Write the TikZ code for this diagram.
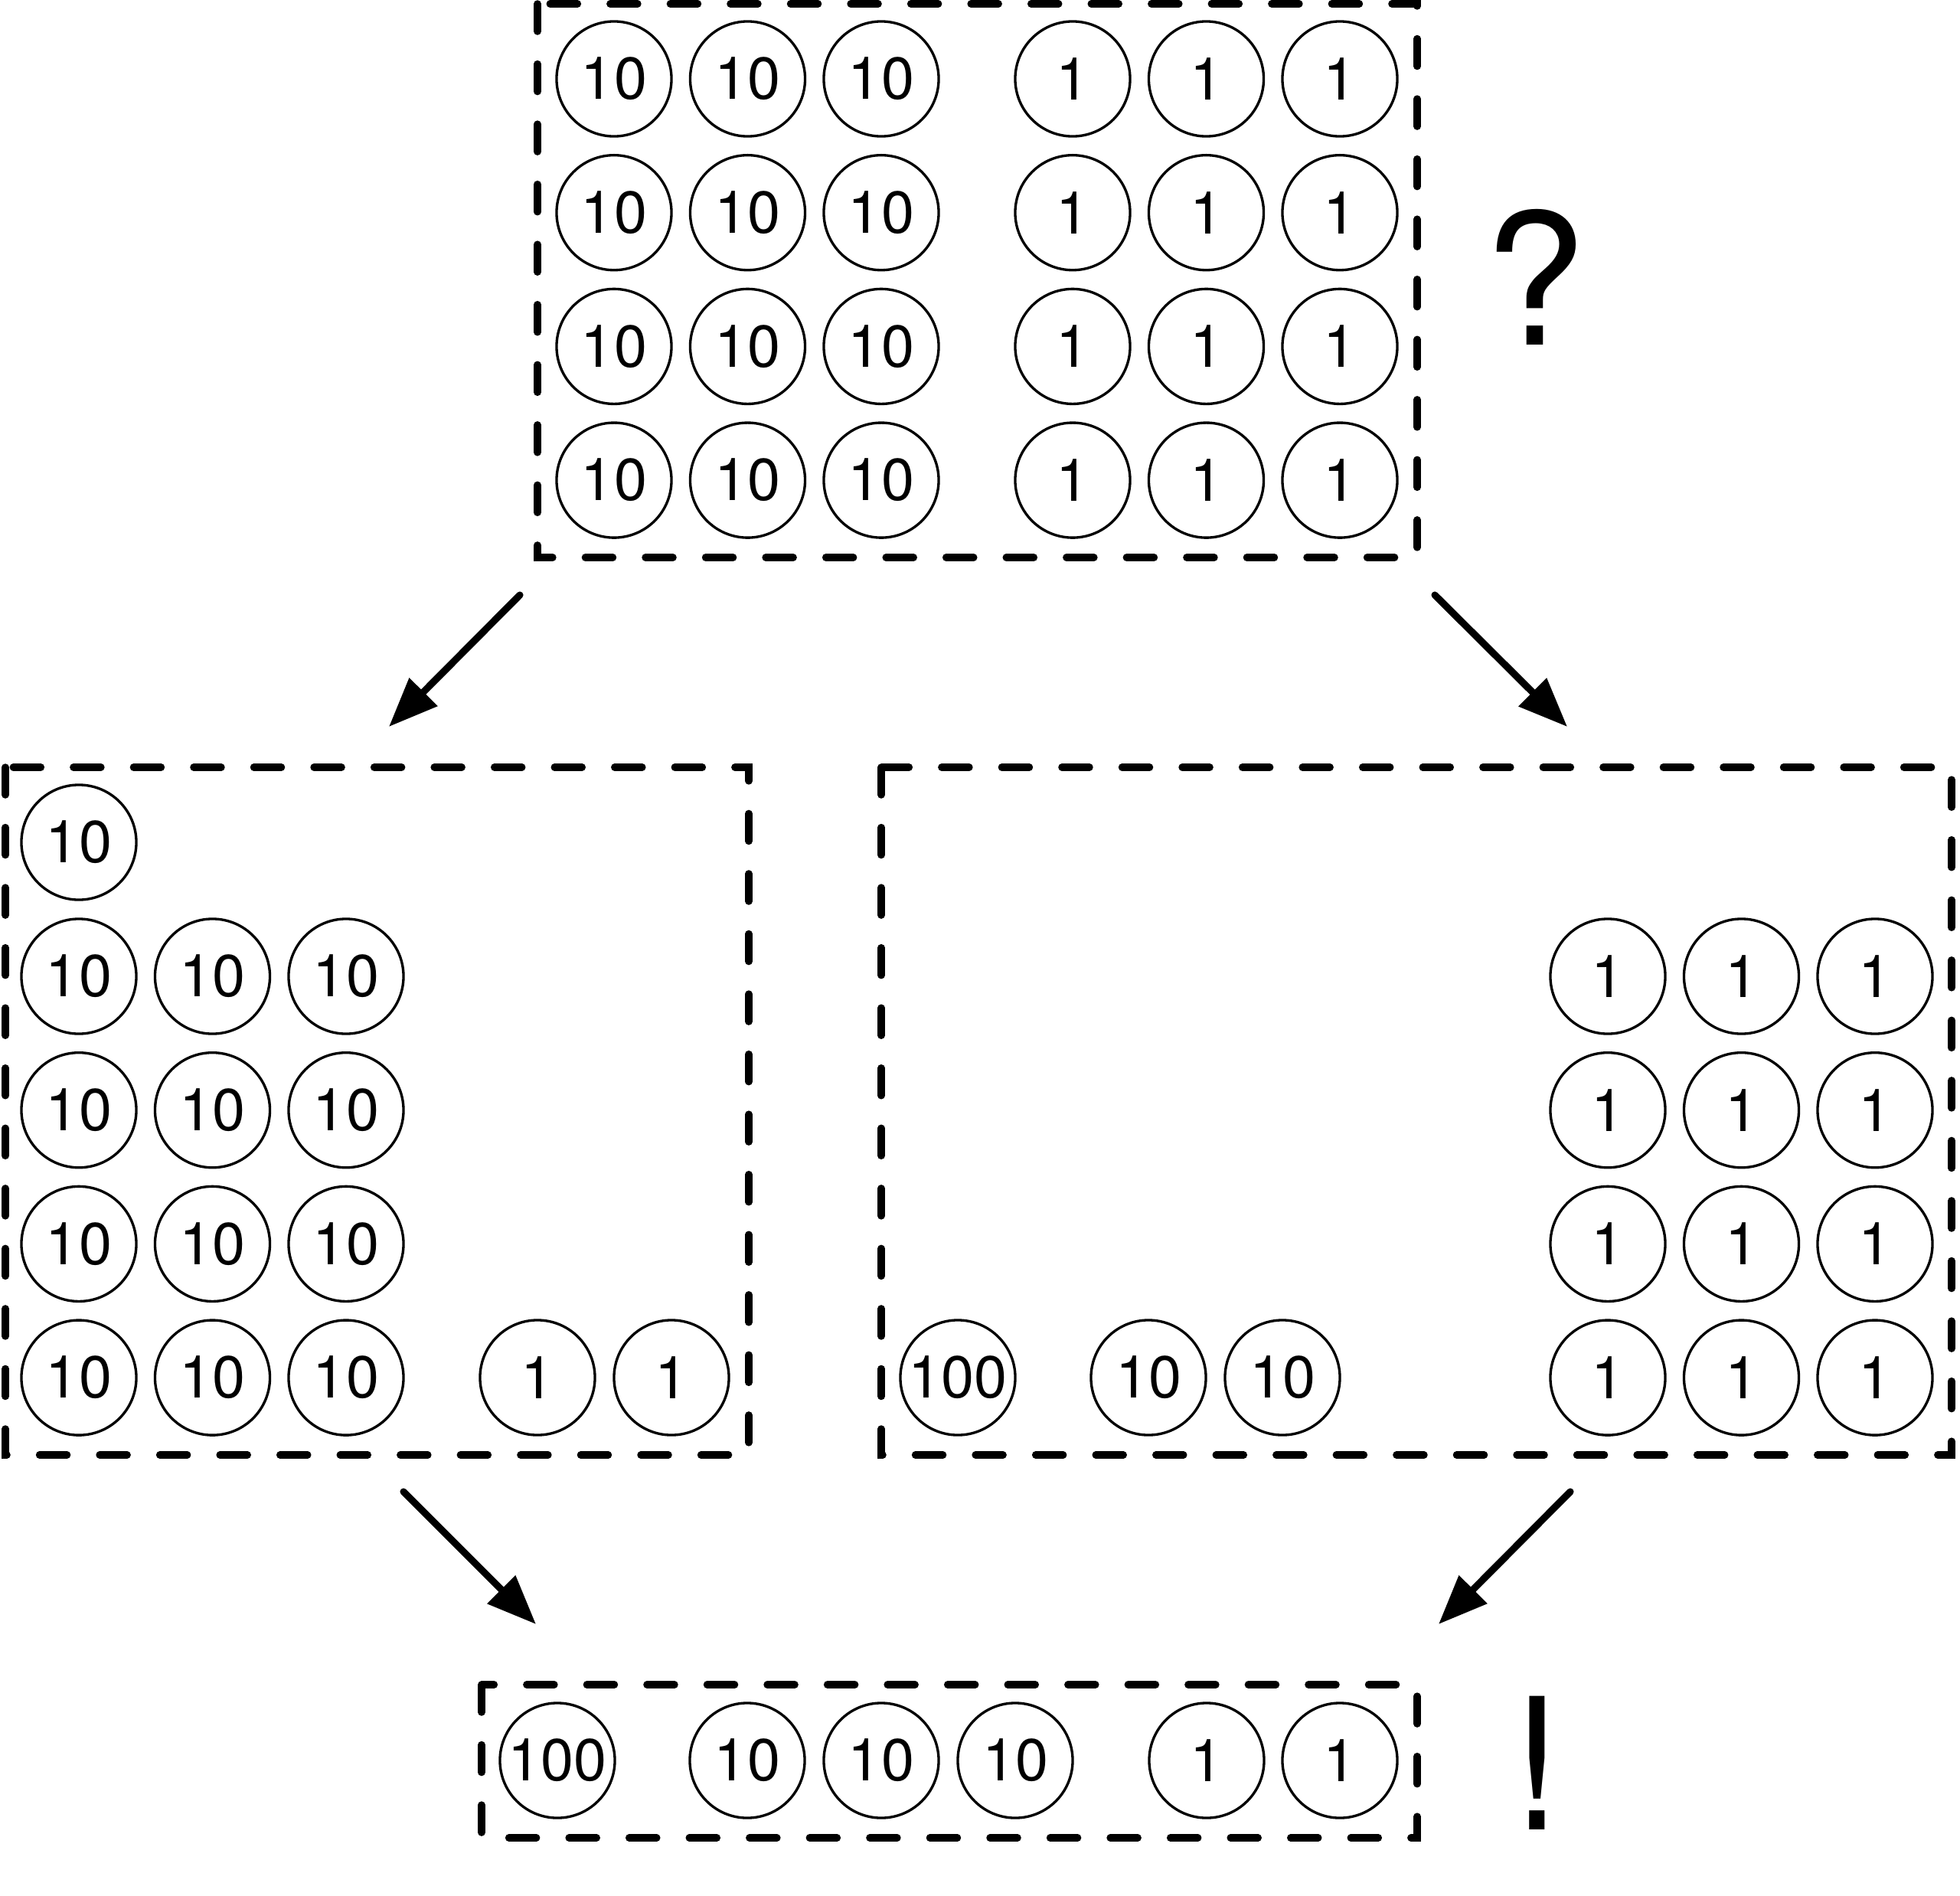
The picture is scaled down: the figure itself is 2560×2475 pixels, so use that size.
\documentclass[tikz,border=0pt]{standalone}
\usepackage{fontspec}
\setmainfont{TeX Gyre Heros}
\usetikzlibrary{arrows.meta}

\begin{document}
\begin{tikzpicture}[x=0.01cm,y=-0.01cm,
  coin/.style={circle,draw,line width=.95pt,minimum size=1.5cm,inner sep=0pt,font=\fontsize{22}{26}\selectfont},
  tray/.style={line width=2.7pt,dash pattern=on .36cm off .425cm,line cap=round},
  push/.style={line width=2.6pt,line cap=round,-{Triangle[length=.64cm,width=.5cm]}},
  mark sign/.style={font=\fontsize{68}{72}\selectfont}]
  \useasboundingbox (0,0) rectangle (2560,2475);
  % trays
  \draw[tray] (702,5) rectangle (1851,728);
  \draw[tray] (7,1002) rectangle (978,1900);
  \draw[tray] (1151,1002) rectangle (2549,1900);
  \draw[tray] (629,2200) rectangle (1851,2400);
  % top: 12 tens, 12 ones
  \foreach \r in {0,...,3} {\foreach \c in {0,1,2} {
    \node[coin] (top10-\r-\c) at (802+174.5*\c,103+174.7*\r) {10};
    \node[coin] (top1-\r-\c) at (1401+174.5*\c,103+174.7*\r) {1};}}
  \node[mark sign] (ask) at (2005,362) {?};
  % left: tens regrouped
  \node[coin] (left10-x) at (103,1100) {10};
  \foreach \r in {0,...,3} {\foreach \c in {0,1,2} {
    \node[coin] (left10-\r-\c) at (103+174.5*\c,1275+174.7*\r) {10};}}
  \node[coin] (left1-a) at (702,1799) {1}; \node[coin] (left1-b) at (877,1799) {1};
  % right: ones kept
  \node[coin] (right100) at (1251,1799) {100};
  \node[coin] (right10-a) at (1500,1799) {10}; \node[coin] (right10-b) at (1675,1799) {10};
  \foreach \r in {0,...,3} {\foreach \c in {0,1,2} {
    \node[coin] (right1-\r-\c) at (2100+174.5*\c,1275+174.7*\r) {1};}}
  % bottom: result
  \node[coin] (res100) at (728,2299) {100};
  \foreach \x [count=\i] in {976,1151,1326} {\node[coin] (res10-\i) at (\x,2299) {10};}
  \foreach \x [count=\i] in {1576,1750} {\node[coin] (res1-\i) at (\x,2299) {1};}
  \node[mark sign] (bang) at (2008,2302) {!};
  % arrows
  \coordinate (tl) at (679,777); \coordinate (ml) at (508,949);
  \coordinate (tr) at (1874,777); \coordinate (mr) at (2047,949);
  \coordinate (bl) at (527,1948); \coordinate (el) at (700,2121);
  \coordinate (br) at (2051,1948); \coordinate (er) at (1879,2121);
  \draw[push] (tl)--(ml); \draw[push] (tr)--(mr);
  \draw[push] (bl)--(el); \draw[push] (br)--(er);
\end{tikzpicture}
\end{document}
